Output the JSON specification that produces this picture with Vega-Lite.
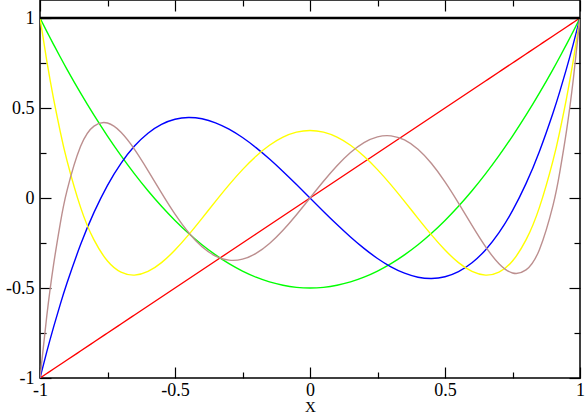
{
  "$schema": "https://vega.github.io/schema/vega-lite/v6.json",
  "width": 540,
  "height": 378,
  "autosize": {"type": "none"},
  "padding": {"left": 40, "top": 0, "right": 6, "bottom": 41},
  "background": "white",
  "config": {
    "view": {"stroke": "black", "strokeWidth": 1.5},
    "font": "Liberation Serif",
    "axis": {"labelFont": "Liberation Serif", "titleFont": "Liberation Serif", "labelColor": "black", "titleColor": "black", "domain": false, "grid": false, "tickColor": "black", "tickWidth": 1.2, "labelFontSize": 18, "titleFontSize": 15, "titleFontWeight": "normal"}
  },
  "datasets": {
    "legendre": [
      {"x": -1, "p1": -1, "p2": 1, "p3": -1, "p4": 1, "p5": -1},
      {"x": -0.975, "p1": -0.975, "p2": 0.92594, "p3": -0.85465, "p4": 0.76379, "p5": -0.65673},
      {"x": -0.95, "p1": -0.95, "p2": 0.85375, "p3": -0.71844, "p4": 0.55409, "p5": -0.37274},
      {"x": -0.925, "p1": -0.925, "p2": 0.78344, "p3": -0.59113, "p4": 0.36932, "p5": -0.14201},
      {"x": -0.9, "p1": -0.9, "p2": 0.715, "p3": -0.4725, "p4": 0.20794, "p5": 0.04114},
      {"x": -0.85, "p1": -0.85, "p2": 0.58375, "p3": -0.26031, "p4": -0.0506, "p5": 0.28566},
      {"x": -0.8, "p1": -0.8, "p2": 0.46, "p3": -0.08, "p4": -0.233, "p5": 0.39952},
      {"x": -0.75, "p1": -0.75, "p2": 0.34375, "p3": 0.07031, "p4": -0.3501, "p5": 0.41638},
      {"x": -0.7, "p1": -0.7, "p2": 0.235, "p3": 0.1925, "p4": -0.41206, "p5": 0.3652},
      {"x": -0.65, "p1": -0.65, "p2": 0.13375, "p3": 0.28844, "p4": -0.42841, "p5": 0.27049},
      {"x": -0.6, "p1": -0.6, "p2": 0.04, "p3": 0.36, "p4": -0.408, "p5": 0.15264},
      {"x": -0.55, "p1": -0.55, "p2": -0.04625, "p3": 0.40906, "p4": -0.35904, "p5": 0.02819},
      {"x": -0.5, "p1": -0.5, "p2": -0.125, "p3": 0.4375, "p4": -0.28906, "p5": -0.08984},
      {"x": -0.45, "p1": -0.45, "p2": -0.19625, "p3": 0.44719, "p4": -0.20497, "p5": -0.19172},
      {"x": -0.4, "p1": -0.4, "p2": -0.26, "p3": 0.44, "p4": -0.113, "p5": -0.27064},
      {"x": -0.35, "p1": -0.35, "p2": -0.31625, "p3": 0.41781, "p4": -0.01872, "p5": -0.32245},
      {"x": -0.3, "p1": -0.3, "p2": -0.365, "p3": 0.3825, "p4": 0.07294, "p5": -0.34539},
      {"x": -0.25, "p1": -0.25, "p2": -0.40625, "p3": 0.33594, "p4": 0.15771, "p5": -0.33972},
      {"x": -0.2, "p1": -0.2, "p2": -0.44, "p3": 0.28, "p4": 0.232, "p5": -0.30752},
      {"x": -0.15, "p1": -0.15, "p2": -0.46625, "p3": 0.21656, "p4": 0.29284, "p5": -0.25232},
      {"x": -0.1, "p1": -0.1, "p2": -0.485, "p3": 0.1475, "p4": 0.33794, "p5": -0.17883},
      {"x": -0.05, "p1": -0.05, "p2": -0.49625, "p3": 0.0747, "p4": 0.36565, "p5": -0.0927},
      {"x": 0, "p1": 0, "p2": -0.5, "p3": 0, "p4": 0.375, "p5": 0},
      {"x": 0.05, "p1": 0.05, "p2": -0.49625, "p3": -0.0747, "p4": 0.36565, "p5": 0.0927},
      {"x": 0.1, "p1": 0.1, "p2": -0.485, "p3": -0.1475, "p4": 0.33794, "p5": 0.17883},
      {"x": 0.15, "p1": 0.15, "p2": -0.46625, "p3": -0.21656, "p4": 0.29284, "p5": 0.25232},
      {"x": 0.2, "p1": 0.2, "p2": -0.44, "p3": -0.28, "p4": 0.232, "p5": 0.30752},
      {"x": 0.25, "p1": 0.25, "p2": -0.40625, "p3": -0.33594, "p4": 0.15771, "p5": 0.33972},
      {"x": 0.3, "p1": 0.3, "p2": -0.365, "p3": -0.3825, "p4": 0.07294, "p5": 0.34539},
      {"x": 0.35, "p1": 0.35, "p2": -0.31625, "p3": -0.41781, "p4": -0.01872, "p5": 0.32245},
      {"x": 0.4, "p1": 0.4, "p2": -0.26, "p3": -0.44, "p4": -0.113, "p5": 0.27064},
      {"x": 0.45, "p1": 0.45, "p2": -0.19625, "p3": -0.44719, "p4": -0.20497, "p5": 0.19172},
      {"x": 0.5, "p1": 0.5, "p2": -0.125, "p3": -0.4375, "p4": -0.28906, "p5": 0.08984},
      {"x": 0.55, "p1": 0.55, "p2": -0.04625, "p3": -0.40906, "p4": -0.35904, "p5": -0.02819},
      {"x": 0.6, "p1": 0.6, "p2": 0.04, "p3": -0.36, "p4": -0.408, "p5": -0.15264},
      {"x": 0.65, "p1": 0.65, "p2": 0.13375, "p3": -0.28844, "p4": -0.42841, "p5": -0.27049},
      {"x": 0.7, "p1": 0.7, "p2": 0.235, "p3": -0.1925, "p4": -0.41206, "p5": -0.3652},
      {"x": 0.75, "p1": 0.75, "p2": 0.34375, "p3": -0.07031, "p4": -0.3501, "p5": -0.41638},
      {"x": 0.8, "p1": 0.8, "p2": 0.46, "p3": 0.08, "p4": -0.233, "p5": -0.39952},
      {"x": 0.85, "p1": 0.85, "p2": 0.58375, "p3": 0.26031, "p4": -0.0506, "p5": -0.28566},
      {"x": 0.9, "p1": 0.9, "p2": 0.715, "p3": 0.4725, "p4": 0.20794, "p5": -0.04114},
      {"x": 0.925, "p1": 0.925, "p2": 0.78344, "p3": 0.59113, "p4": 0.36932, "p5": 0.14201},
      {"x": 0.95, "p1": 0.95, "p2": 0.85375, "p3": 0.71844, "p4": 0.55409, "p5": 0.37274},
      {"x": 0.975, "p1": 0.975, "p2": 0.92594, "p3": 0.85465, "p4": 0.76379, "p5": 0.65673},
      {"x": 1, "p1": 1, "p2": 1, "p3": 1, "p4": 1, "p5": 1}
    ],
    "p0": [
      {"x": -1, "y": 1},
      {"x": 1, "y": 1}
    ]
  },
  "layer": [
    {
      "data": {"name": "legendre"},
      "transform": [{"fold": ["p1", "p2", "p3", "p4", "p5"], "as": ["series", "y"]}],
      "mark": {"type": "line", "strokeWidth": 1.4, "interpolate": "natural", "clip": true},
      "encoding": {
        "x": {
          "field": "x", "type": "quantitative",
          "scale": {"domain": [-1, 1], "nice": false, "zero": false},
          "axis": {
            "orient": "bottom", "title": "X", "titlePadding": 0,
            "values": [-1, -0.75, -0.5, -0.25, 0, 0.25, 0.5, 0.75, 1],
            "labelExpr": "abs(datum.value*2-round(datum.value*2))<0.001 ? toString(datum.value) : ''",
            "tickSize": {"condition": {"test": "abs(datum.value*2-round(datum.value*2))<0.001", "value": -11}, "value": -6},
            "labelPadding": 14, "labelFlush": false
          }
        },
        "y": {
          "field": "y", "type": "quantitative",
          "scale": {"domain": [-1, 1.1], "nice": false, "zero": false},
          "axis": {
            "orient": "left", "title": null,
            "values": [-1, -0.75, -0.5, -0.25, 0, 0.25, 0.5, 0.75, 1],
            "labelExpr": "abs(datum.value*2-round(datum.value*2))<0.001 ? toString(datum.value) : ''",
            "tickSize": {"condition": {"test": "abs(datum.value*2-round(datum.value*2))<0.001", "value": -11}, "value": -6},
            "labelPadding": 17, "labelFlush": false
          }
        },
        "color": {
          "field": "series", "type": "nominal",
          "scale": {"domain": ["p1", "p2", "p3", "p4", "p5"], "range": ["#ff0000", "#00ff00", "#0000ff", "#ffff00", "#bc8f8f"]},
          "legend": null
        }
      }
    },
    {
      "data": {"name": "p0"},
      "mark": {"type": "line", "strokeWidth": 2.5, "color": "black"},
      "encoding": {
        "x": {
          "field": "x", "type": "quantitative",
          "scale": {"domain": [-1, 1], "nice": false, "zero": false},
          "axis": {
            "orient": "top", "title": null, "labels": false,
            "values": [-1, -0.75, -0.5, -0.25, 0, 0.25, 0.5, 0.75, 1],
            "tickSize": {"condition": {"test": "abs(datum.value*2-round(datum.value*2))<0.001", "value": -11}, "value": -6}
          }
        },
        "y": {
          "field": "y", "type": "quantitative",
          "scale": {"domain": [-1, 1.1], "nice": false, "zero": false},
          "axis": {
            "orient": "right", "title": null, "labels": false,
            "values": [-1, -0.75, -0.5, -0.25, 0, 0.25, 0.5, 0.75, 1],
            "tickSize": {"condition": {"test": "abs(datum.value*2-round(datum.value*2))<0.001", "value": -11}, "value": -6}
          }
        }
      }
    }
  ],
  "resolve": {"axis": {"x": "independent", "y": "independent"}}
}
